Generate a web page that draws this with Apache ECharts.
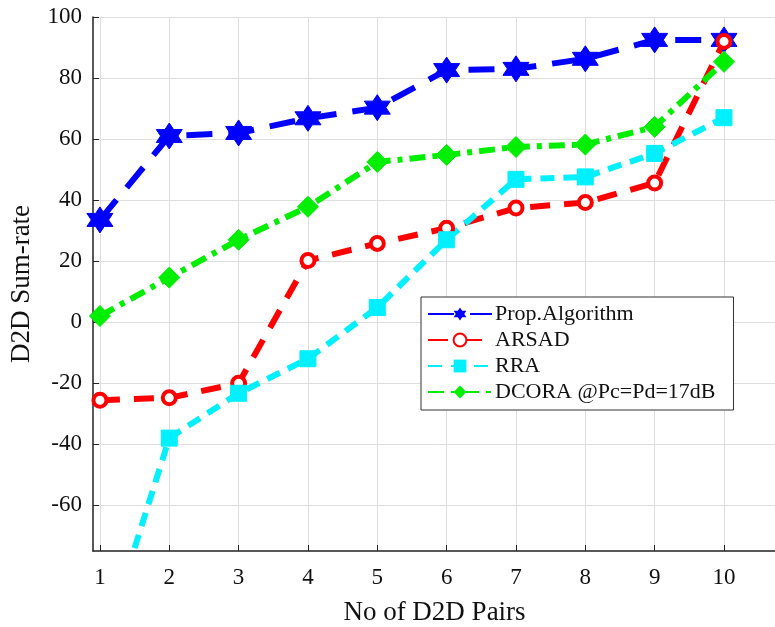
<!DOCTYPE html>
<html>
<head>
<meta charset="utf-8">
<script src="https://cdn.jsdelivr.net/npm/echarts@6/dist/echarts.min.js"></script>
<style>
  html, body { margin: 0; padding: 0; background: #fff; }
  #chart { width: 775px; height: 627px; }
</style>
</head>
<body>
<div id="chart"></div>
<script>
// D2D sum-rate vs number of D2D pairs

const pairs = [1, 2, 3, 4, 5, 6, 7, 8, 9, 10]
const yTicks = [-60, -40, -20, 0, 20, 40, 60, 80, 100]

const propAlg = [33.5, 61, 62, 66.8, 70.3, 82.6, 83, 86.3, 92.5, 92.5]
const arsad = [-25.6, -24.8, -20, 20.2, 25.8, 30.8, 37.4, 39.2, 45.6, 92]
const rra = [-110, -38, -23.3, -12, 4.8, 27, 46.8, 47.6, 55.3, 67]
const dcora = [2, 14.6, 27, 37.8, 52.5, 54.8, 57.4, 58.2, 64, 85.3]

const names = ['Prop.Algorithm', 'ARSAD', 'RRA', 'DCORA @Pc=Pd=17dB']

const hexagram = 'path://M0,-10 L2.887,-5 L8.66,-5 L5.774,0 L8.66,5 L2.887,5 L0,10 L-2.887,5 L-8.66,5 L-5.774,0 L-8.66,-5 L-2.887,-5 Z'
const font = '"Liberation Serif", "Times New Roman", serif'

const toPoints = vals => vals.map((v, i) => [pairs[i], v])

const makeSeries = (name, vals, color, dash, symbol, size, extra) => Object.assign({
  name,
  type: 'line',
  data: toPoints(vals),
  symbol,
  symbolSize: size,
  showAllSymbol: true,
  lineStyle: { color, width: 6, type: dash },
  itemStyle: { color, borderColor: color },
  animation: false
}, extra || {})

const option = {
  backgroundColor: '#fff',
  grid: { left: 93, top: 17, right: -1, bottom: 76, outerBoundsMode: 'none' },
  legend: {
    orient: 'vertical',
    left: 421,
    top: 297,
    width: 313,
    padding: [6, 18, 7, 6],
    itemGap: 4,
    itemWidth: 64,
    itemHeight: 16,
    backgroundColor: '#fff',
    borderColor: '#333',
    borderWidth: 1,
    textStyle: { fontFamily: font, fontSize: 22, color: '#111', padding: [0, 0, 0, -2] },
    data: names
  },
  xAxis: {
    type: 'value',
    min: 0.9,
    max: 10.75,
    name: 'No of D2D Pairs',
    nameLocation: 'middle',
    nameGap: 48,
    nameTextStyle: { fontFamily: font, fontSize: 27, color: '#111' },
    axisLine: { onZero: false, lineStyle: { color: '#222', width: 1.5 } },
    axisTick: { inside: true, length: 6, customValues: pairs, lineStyle: { color: '#222' } },
    axisLabel: { customValues: pairs, fontFamily: font, fontSize: 23, color: '#111', margin: 15 },
    splitLine: { show: true, lineStyle: { color: '#dedede', width: 1 } }
  },
  yAxis: {
    type: 'value',
    min: -75,
    max: 100,
    name: 'D2D Sum-rate',
    nameLocation: 'middle',
    nameGap: 58,
    nameTextStyle: { fontFamily: font, fontSize: 27, color: '#111' },
    axisLine: { show: true, onZero: false, lineStyle: { color: '#222', width: 1.5 } },
    axisTick: { show: true, inside: true, length: 6, customValues: yTicks, lineStyle: { color: '#222' } },
    axisLabel: { customValues: yTicks, fontFamily: font, fontSize: 23, color: '#111', margin: 11 },
    splitLine: { show: true, lineStyle: { color: '#dedede', width: 1 } }
  },
  series: [
    makeSeries(names[0], propAlg, '#0000ff', [26, 16], hexagram, 26),
    makeSeries(names[1], arsad, '#ff0000', [20, 14], 'circle', 13,
      { itemStyle: { color: '#fff', borderColor: '#ff0000', borderWidth: 4 } }),
    makeSeries(names[2], rra, '#00f0ff', [14, 9], 'rect', 16),
    makeSeries(names[3], dcora, '#00ee00', [16, 7, 5, 7], 'diamond', 21)
  ]
}

const chart = echarts.init(document.getElementById('chart'))
chart.setOption(option)
</script>
</body>
</html>
